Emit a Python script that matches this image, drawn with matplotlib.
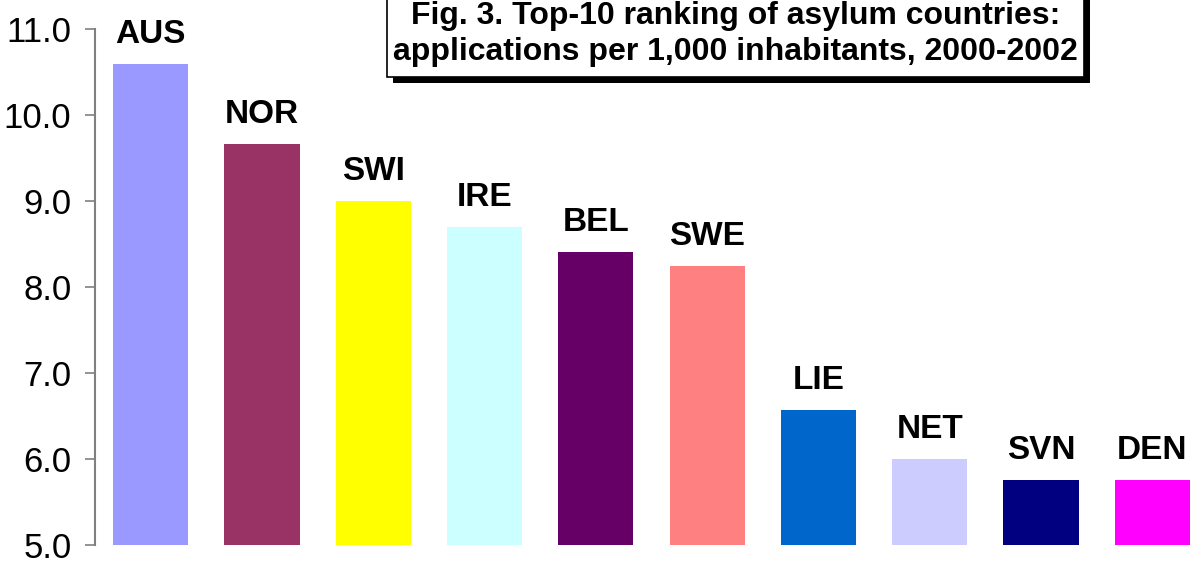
"""Top-10 asylum countries, applications per 1,000 inhabitants (2000-2002)."""

import matplotlib
matplotlib.use("Agg")
import matplotlib.pyplot as plt
from matplotlib.patches import Rectangle

countries = ["AUS", "NOR", "SWI", "IRE", "BEL", "SWE", "LIE", "NET", "SVN", "DEN"]
rates = [10.59, 9.66, 9.00, 8.70, 8.41, 8.24, 6.57, 6.00, 5.76, 5.76]
bar_colors = ["#9999FF", "#993366", "#FFFF00", "#CCFFFF", "#660066",
              "#FF8080", "#0066CC", "#CCCCFF", "#000080", "#FF00FF"]
y_ticks = [5.0, 6.0, 7.0, 8.0, 9.0, 10.0, 11.0]
title = ("Fig. 3. Top-10 ranking of asylum countries:\n"
         "applications per 1,000 inhabitants, 2000-2002")

plt.rcParams.update({
    "font.family": ["Liberation Sans", "DejaVu Sans"],
    "font.size": 24,
})

W, H = 1191, 561
fig = plt.figure(figsize=(W / 100, H / 100), dpi=100)

# axes runs past the right edge of the canvas, as in the original
ax = fig.add_axes([95 / W, 16 / H, 1113 / W, 516 / H])
x = list(range(len(countries)))
ax.bar(x, rates, width=0.675, color=bar_colors, bottom=0)

for xi, val, name in zip(x, rates, countries):
    ax.annotate(name, (xi, val), xytext=(0, 10), textcoords="offset points",
                ha="center", va="bottom", fontsize=24, fontweight="bold")

ax.set_xlim(-0.5, 9.5)
ax.set_ylim(5.0, 11.0)
ax.set_yticks(y_ticks)
ax.set_yticklabels([f"{t:.1f}" for t in y_ticks])
ax.set_xticks([])
for side in ("top", "right", "bottom"):
    ax.spines[side].set_visible(False)
ax.spines["left"].set_color("#808080")
ax.spines["left"].set_linewidth(1.5)
ax.tick_params(axis="y", length=7, width=1.2, color="#808080", pad=10,
               labelsize=25)

# title box with drop shadow
bx0, bx1, by0 = 387 / W, 1084 / W, 1 - 77 / H
sh = 6
fig.patches.append(Rectangle((bx0 + sh / W, by0 - sh / H), bx1 - bx0, 0.2,
                             transform=fig.transFigure, facecolor="black",
                             edgecolor="none", zorder=5))
fig.patches.append(Rectangle((bx0, by0), bx1 - bx0, 0.2,
                             transform=fig.transFigure, facecolor="white",
                             edgecolor="black", linewidth=1.2, zorder=6))
fig.text((bx0 + bx1) / 2, 1 - 34 / H, title, ha="center", va="center",
         fontsize=23, fontweight="bold", linespacing=1.25, zorder=7)

fig.savefig("out.png", dpi=100)
